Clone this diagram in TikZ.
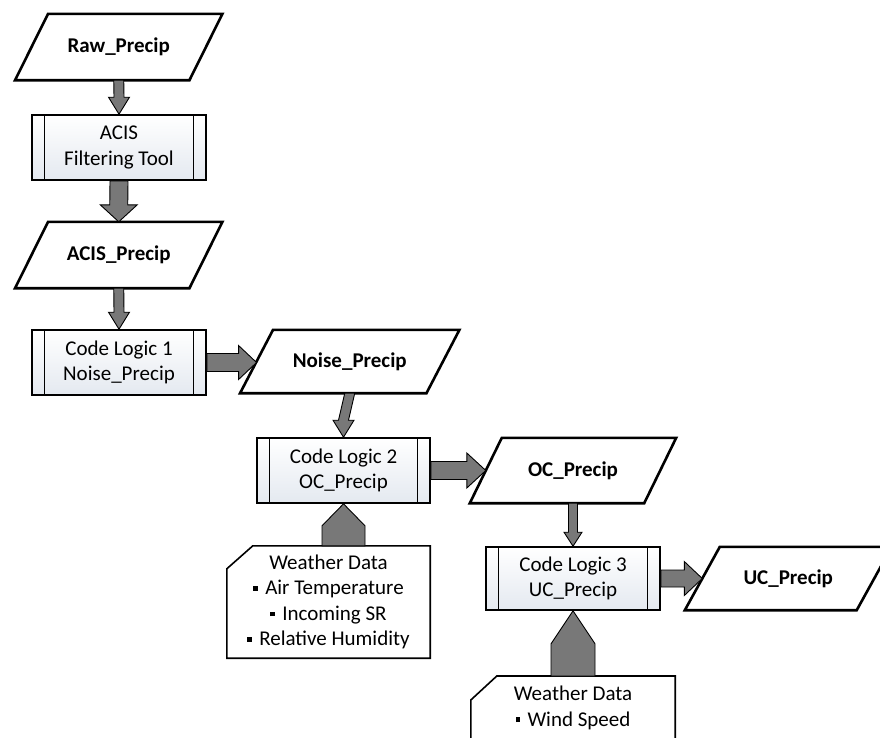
\documentclass[tikz,border=0pt]{standalone}
\usepackage{fontspec}
\setmainfont{Carlito}
\usetikzlibrary{calc}
\definecolor{arrowgray}{RGB}{120,120,120}
\definecolor{procfill}{RGB}{228,233,240}
\newcommand\paraout[2]{\draw[paraline] ([xshift=#2pt]#1.north west) -- ([xshift=#2pt]#1.north east) -- ([xshift=-#2pt]#1.south east) -- ([xshift=-#2pt]#1.south west) -- cycle;}
\newcommand\procbars[1]{\draw[barline] ([xshift=13pt]#1.north west) -- ([xshift=13pt]#1.south west) ([xshift=-13pt]#1.north east) -- ([xshift=-13pt]#1.south east);}
\newcommand\dnarrow[5]{\draw[blockarrow] let \p1=(#1.south), \p2=(#2.north) in
 (\x1-#3pt,\y1) -- (\x2-#3pt,\y2+#5pt) -- (\x2-#4pt,\y2+#5pt) -- (\x2,\y2) -- (\x2+#4pt,\y2+#5pt) -- (\x2+#3pt,\y2+#5pt) -- (\x1+#3pt,\y1) -- cycle;}
\newcommand\rtarrow[5]{\draw[blockarrow] let \p1=(#1.east), \p2=(#2.west) in
 (\x1,\y1+#3pt) -- (\x2-#5pt,\y1+#3pt) -- (\x2-#5pt,\y1+#4pt) -- (\x2,\y1) -- (\x2-#5pt,\y1-#4pt) -- (\x2-#5pt,\y1-#3pt) -- (\x1,\y1-#3pt) -- cycle;}
\newcommand\uparrowblk[4]{\draw[blockarrow] let \p1=(#1.north), \p2=(#2.south) in
 (\x2-#3pt,\y1) -- (\x2-#3pt,\y2-#4pt) -- (\x2,\y2) -- (\x2+#3pt,\y2-#4pt) -- (\x2+#3pt,\y1) -- cycle;}
\newcommand\sqbul{\rule[0.2em]{0.22em}{0.22em}\hspace{0.35em}}
\begin{document}
\begin{tikzpicture}[x=1pt,y=-1pt,
  basefont/.style={font=\fontsize{21pt}{25.5pt}\selectfont},
  dataout/.style={rectangle, inner sep=0pt, minimum width=174pt, minimum height=66pt, font=\fontsize{21pt}{25.5pt}\selectfont\bfseries},
  proc/.style={rectangle, draw=black, line width=1.6pt, minimum width=174pt, minimum height=65pt, inner sep=0pt, align=center, top color=white, bottom color=procfill, basefont},
  paraline/.style={draw=black, line width=2.6pt, line join=miter},
  barline/.style={draw=black, line width=1.3pt},
  blockarrow/.style={fill=arrowgray, draw=black, line width=0.9pt, line join=miter},
  card/.style={rectangle, inner sep=0pt, align=center, basefont},
  cardline/.style={draw=black, line width=1.6pt, line join=miter}]
\useasboundingbox (0,0) rectangle (880,737);
\clip (0,0) rectangle (880,737);
\fill[white] (0,0) rectangle (880,737);

% data (parallelogram) nodes
\node[dataout] (raw) at (118.75,47) {Raw\_Precip};
\node[dataout] (acisp) at (118.75,255) {ACIS\_Precip};
\node[dataout, minimum width=186pt, minimum height=63pt] (noise) at (349.75,361.5) {Noise\_Precip};
\node[dataout, minimum height=65pt] (oc) at (573,470.5) {OC\_Precip};
\node[dataout, minimum width=171.5pt, minimum height=63pt] (uc) at (788.25,578.5) {UC\_Precip};
\paraout{raw}{16.5}
\paraout{acisp}{16.5}
\paraout{noise}{16.5}
\paraout{oc}{16}
\paraout{uc}{17.5}

% process nodes
\node[proc] (acis) at (119,147.5) {ACIS\\Filtering Tool};
\node[proc] (cl1) at (119,362.5) {Code Logic 1\\Noise\_Precip};
\node[proc, minimum width=173pt] (cl2) at (343.5,470.5) {Code Logic 2\\OC\_Precip};
\node[proc, minimum height=63pt] (cl3) at (573,578.5) {Code Logic 3\\UC\_Precip};
\procbars{acis}
\procbars{cl1}
\procbars{cl2}
\procbars{cl3}

% weather data cards
\node[card, minimum width=203pt, minimum height=112pt] (w1) at (328.5,602) {Weather Data\\\sqbul Air Temperature\\\sqbul Incoming SR\\\sqbul Relative Humidity};
\draw[cardline] ([xshift=26pt]w1.north west) -- (w1.north east) -- (w1.south east) -- (w1.south west) -- ([yshift=-23pt]w1.north west) -- cycle;
\node[card, minimum width=204pt, inner ysep=10pt, anchor=north] (w2) at (573,676) {Weather Data\\\sqbul Wind Speed};
\coordinate (w2b) at (573,760);
\draw[cardline] (w2.north east |- w2b) -- (w2.north east) -- ([xshift=26pt]w2.north west) -- ([yshift=-24pt]w2.north west) -- (w2.north west |- w2b);

% connectors
\dnarrow{raw}{acis}{5}{10.5}{17}
\dnarrow{acis}{acisp}{9}{18.5}{17}
\dnarrow{acisp}{cl1}{5}{10.5}{17}
\dnarrow{noise}{cl2}{5}{10.5}{17}
\dnarrow{oc}{cl3}{4.5}{9}{14}
\rtarrow{cl1}{noise}{9}{17}{18}
\rtarrow{cl2}{oc}{9}{17.5}{19}
\rtarrow{cl3}{uc}{8.5}{17}{18}
\uparrowblk{w1}{cl2}{21.5}{22}
\uparrowblk{w2}{cl3}{22}{33}
\end{tikzpicture}
\end{document}
